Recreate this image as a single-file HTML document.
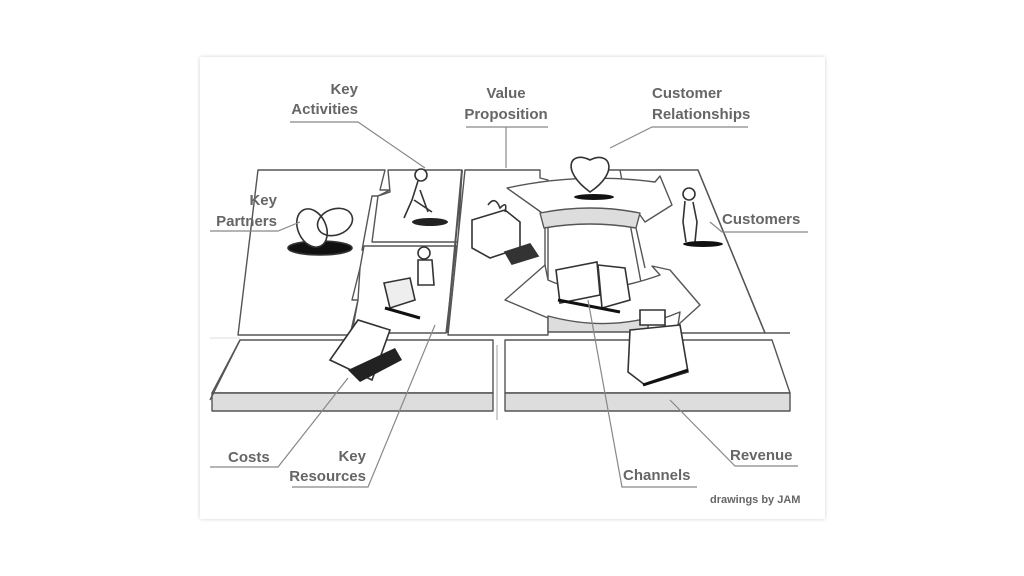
<!DOCTYPE html>
<html><head><meta charset="utf-8"><style>
html,body{margin:0;padding:0;background:#fff;}
body{width:1024px;height:576px;position:relative;overflow:hidden;}
.card{position:absolute;left:200px;top:57px;width:625px;height:462px;background:#fff;box-shadow:0 0 4px rgba(0,0,0,0.18);}
svg{position:absolute;left:0;top:0;}
text{font-family:"Liberation Sans",sans-serif;font-weight:bold;fill:#666;font-size:15px;}
</style></head><body>
<div class="card"></div>
<svg width="1024" height="576" viewBox="0 0 1024 576">
<g fill="none" stroke="#555" stroke-width="1.4" stroke-linejoin="round">
<path d="M210 338 H240" stroke="#ddd" stroke-width="1"/>
<path d="M258 170 H385 L380 190 H390 L378 196 H372 L362 250 L370 250 L360 268 L352 300 H358 L350 335 H238 Z" fill="#fff"/>
<path d="M388 170 H462 L458 242 H372 L378 196 L390 192 Z" fill="#fff"/>
<path d="M364 246 H456 L446 333 H352 L358 300 L360 268 Z" fill="#fff"/>
<path d="M462 170 L447 333" stroke-width="2"/>
<path d="M465 170 H540 V178 L548 180 V335 H448 Z" fill="#fff"/>
<path d="M600 170 H698 L765 333 H648 V320 L620 170 Z" fill="#fff"/>
<path d="M698 170 L765 333 H790" />
<path d="M507 188 Q580 172 655 182 L660 176 L672 205 L645 222 L640 215 Q590 205 545 215 Z" fill="#fff"/>
<path d="M540 213 Q590 203 640 213 L636 228 Q590 220 544 228 Z" fill="#ddd"/>
<path d="M545 228 V300 M636 228 L645 268"/>
<path d="M505 300 L545 265 L548 280 Q590 300 660 275 L652 266 L670 270 L700 305 L678 325 L680 312 Q600 345 548 318 Z" fill="#fff"/>
<path d="M548 316 Q600 330 648 318 V332 H548 Z" fill="#ddd"/>
<path d="M240 340 H493 V393 H212 Z" fill="#fff"/>
<path d="M212 393 H493 V411 H212 Z" fill="#ddd"/>
<path d="M240 340 L210 400"/>
<path d="M505 340 H772 L790 393 H505 Z" fill="#fff"/>
<path d="M505 393 H790 V411 H505 Z" fill="#ddd"/>
<path d="M497 345 V420" stroke="#bbb"/>
</g>
<g fill="none" stroke="#333" stroke-width="1.6">
<ellipse cx="320" cy="248" rx="32" ry="7" fill="#111"/>
<ellipse cx="312" cy="228" rx="14" ry="20" fill="#fff" transform="rotate(-25 312 228)"/>
<ellipse cx="335" cy="222" rx="18" ry="13" fill="none" transform="rotate(-20 335 222)"/>
<circle cx="421" cy="175" r="6" fill="#fff"/>
<path d="M418 181 L412 200 L404 218 M420 190 L428 212 M414 200 L432 212"/>
<ellipse cx="430" cy="222" rx="18" ry="4" fill="#222" stroke="none"/>
<circle cx="424" cy="253" r="6" fill="#fff"/>
<path d="M418 260 H432 L434 285 H418 Z" fill="#fff"/>
<path d="M384 283 L410 278 L415 300 L390 308 Z" fill="#eee"/>
<path d="M385 308 L420 318" stroke-width="3" stroke="#111"/>
<path d="M472 220 L505 210 L520 222 V248 L490 258 L472 248 Z" fill="#fff"/>
<path d="M488 205 Q495 195 500 208 Q508 200 505 212" />
<path d="M505 252 L530 244 L538 256 L512 264 Z" fill="#333"/>
<path d="M590 192 C560 170 570 150 590 160 C610 150 620 172 590 192 Z" fill="#fff"/>
<ellipse cx="594" cy="197" rx="20" ry="3" fill="#111" stroke="none"/>
<circle cx="689" cy="194" r="6" fill="#fff"/>
<path d="M685 201 L683 222 L686 242 M693 202 L697 222 L695 242"/>
<ellipse cx="703" cy="244" rx="20" ry="3" fill="#111" stroke="none"/>
<path d="M556 270 L597 262 L600 295 L560 303 Z" fill="#fff"/>
<path d="M598 265 L625 268 L630 300 L602 308 Z" fill="#fff"/>
<path d="M558 300 L620 312" stroke="#111" stroke-width="3"/>
<path d="M330 360 L358 320 L390 330 L372 380 Z" fill="#fff"/>
<path d="M348 370 L395 348 L402 360 L360 382 Z" fill="#222" stroke="none"/>
<path d="M640 310 H665 V325 H640 Z M630 330 L680 325 L688 372 L645 385 L628 372 Z" fill="#fff"/>
<path d="M643 385 L688 370" stroke="#111" stroke-width="3"/>
</g>
<g fill="none" stroke="#888" stroke-width="1.2">
<path d="M290 122 H358 L425 168"/>
<path d="M466 127 H548 M506 127 V168"/>
<path d="M748 127 H652 L610 148"/>
<path d="M210 231 H278 L300 222"/>
<path d="M808 232 H722 L710 222"/>
<path d="M210 467 H278 L348 378"/>
<path d="M292 487 H368 L435 325"/>
<path d="M697 487 H622 L588 300"/>
<path d="M798 466 H735 L670 400"/>
</g>
<text x="358" y="94" text-anchor="end">Key</text>
<text x="358" y="114" text-anchor="end">Activities</text>
<text x="506" y="98" text-anchor="middle">Value</text>
<text x="506" y="119" text-anchor="middle">Proposition</text>
<text x="652" y="98">Customer</text>
<text x="652" y="119">Relationships</text>
<text x="277" y="205" text-anchor="end">Key</text>
<text x="277" y="226" text-anchor="end">Partners</text>
<text x="722" y="224">Customers</text>
<text x="228" y="462">Costs</text>
<text x="366" y="461" text-anchor="end">Key</text>
<text x="366" y="481" text-anchor="end">Resources</text>
<text x="623" y="480">Channels</text>
<text x="730" y="460">Revenue</text>
<text x="710" y="503" style="font-size:11px">drawings by JAM</text>
</svg>
</body></html>
